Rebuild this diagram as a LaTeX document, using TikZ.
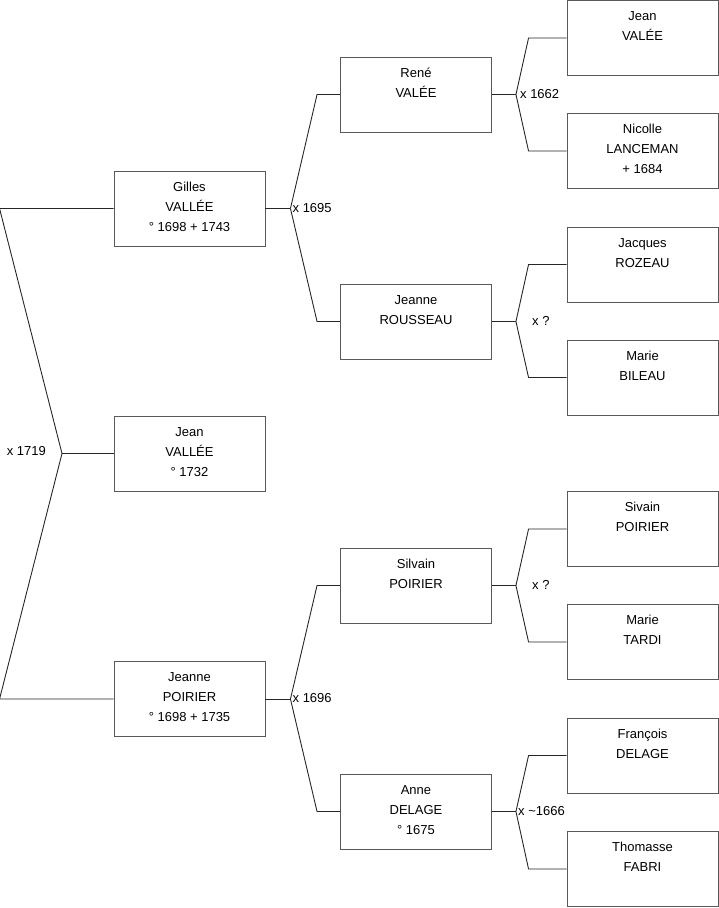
\documentclass[tikz,border=0pt]{standalone}
\usepackage{fontspec}
\setmainfont{Liberation Sans}

\tikzset{
  personne/.style={draw=black!65, line width=0.9pt, minimum width=151pt, minimum height=75pt,
    inner sep=0pt, align=center, font=\fontsize{13}{20}\selectfont},
  lien/.style={line width=0.9pt, black!85},
  mariage/.style={font=\fontsize{13}{15}\selectfont, inner sep=1pt}
}
\newcommand{\fiche}[3]{\strut #1\\\strut #2\\\strut #3\rule[-9pt]{0pt}{9pt}}

\begin{document}
\begin{tikzpicture}[x=1pt, y=-1pt]
  \useasboundingbox (0,0) rectangle (719,908);
  % enfant et parents
  \node[personne] (gilles) at (189.5,208.5) {\fiche{Gilles}{VALLÉE}{° 1698 + 1743}};
  \node[personne] (jean) at (189.5,453.5) {\fiche{Jean}{VALLÉE}{° 1732}};
  \node[personne] (jeanne) at (189.5,699) {\fiche{Jeanne}{POIRIER}{° 1698 + 1735}};
  % grands-parents
  \node[personne] (rene) at (416,94.5) {\fiche{René}{VALÉE}{}};
  \node[personne] (rousseau) at (416,321.5) {\fiche{Jeanne}{ROUSSEAU}{}};
  \node[personne] (silvain) at (416,585.5) {\fiche{Silvain}{POIRIER}{}};
  \node[personne] (anne) at (416,811.5) {\fiche{Anne}{DELAGE}{° 1675}};
  % arriere-grands-parents
  \node[personne] (jeanvalee) at (642.5,38) {\fiche{Jean}{VALÉE}{}};
  \node[personne] (nicolle) at (642.5,151) {\fiche{Nicolle}{LANCEMAN}{+ 1684}};
  \node[personne] (jacques) at (642.5,264.5) {\fiche{Jacques}{ROZEAU}{}};
  \node[personne] (bileau) at (642.5,377.5) {\fiche{Marie}{BILEAU}{}};
  \node[personne] (sivain) at (642.5,529) {\fiche{Sivain}{POIRIER}{}};
  \node[personne] (tardi) at (642.5,642) {\fiche{Marie}{TARDI}{}};
  \node[personne] (francois) at (642.5,755.5) {\fiche{François}{DELAGE}{}};
  \node[personne] (thomasse) at (642.5,869) {\fiche{Thomasse}{FABRI}{}};
  % mariage des parents
  \coordinate (mjean) at (62,453.5);
  \draw[lien] (jean.west) -- (mjean);
  \foreach \p in {gilles,jeanne}
    \draw[lien] (\p.west) -- +(-114,0) -- (mjean);
  \node[mariage, left, xshift=-15pt, yshift=2pt] (xjean) at (mjean) {x 1719};
  % mariages suivants
  \foreach \enf/\pa/\ma/\dx/\dp/\sx/\txt in {
      gilles/rene/rousseau/25/23/1/x 1695,
      jeanne/silvain/anne/25/23/1/x 1696,
      rene/jeanvalee/nicolle/24/38/3/x 1662,
      rousseau/jacques/bileau/24/38/15/x ?,
      silvain/sivain/tardi/24/38/15/x ?,
      anne/francois/thomasse/24/38/1/x \textasciitilde1666}
  {
    \draw[lien] (\enf.east) -- ++(\dx,0) coordinate (m\enf);
    \foreach \p in {\pa,\ma}
      \draw[lien] (\p.west) -- +(-\dp,0) -- (m\enf);
    \node[mariage, right, xshift=\sx pt, yshift=1pt] (x\enf) at (m\enf) {\txt};
  }
\end{tikzpicture}
\end{document}
